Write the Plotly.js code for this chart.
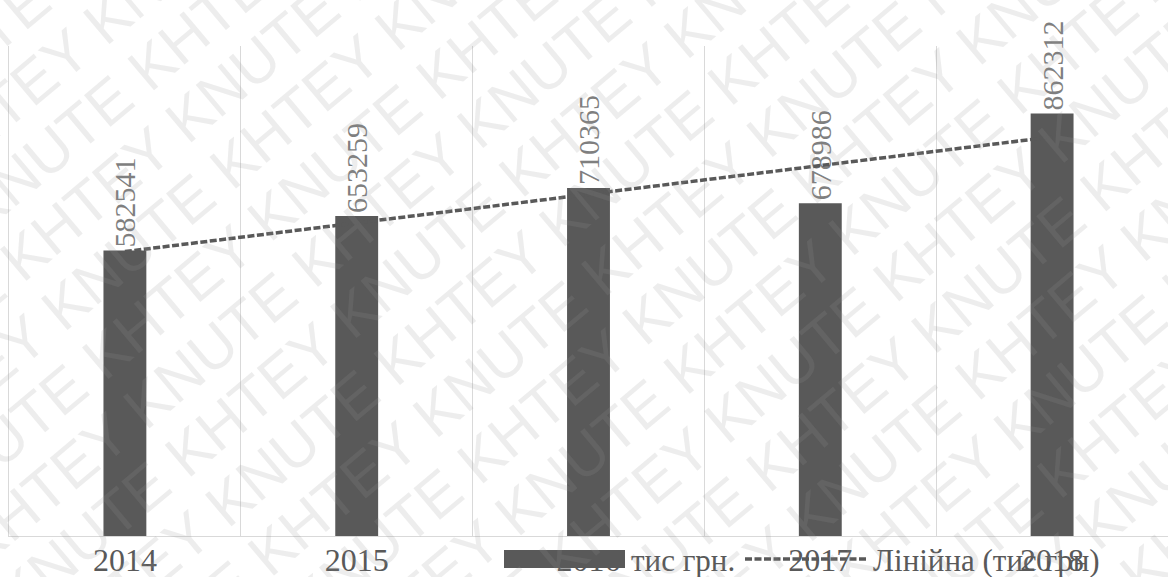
<!DOCTYPE html>
<html>
<head>
<meta charset="utf-8">
<script src="https://cdn.plot.ly/plotly-3.0.1.min.js"></script>
<style>
  html, body { margin: 0; padding: 0; background: #ffffff; }
  #chart { width: 1168px; height: 577px; }
</style>
</head>
<body>
<div id="chart"></div>
<script>
// ---- data ----
const years = ['2014', '2015', '2016', '2017', '2018'];
const values = [582541, 653259, 710365, 678986, 862312];
const trendYears = ['2014', '2018'];
const trendValues = [580400, 814500];
const seriesName = 'тис грн.';
const trendName = 'Лінійна (тис грн)';
const watermarkWords = ['KHTEY', 'KNUTE'];

// ---- layout geometry ----
const W = 1168, H = 577;
const M = { l: 9, r: 0, t: 46, b: 41 };
const PW = W - M.l - M.r, PH = H - M.t - M.b;
const px2x = (px) => (px - M.l) / PW;
const px2y = (py) => (H - M.b - py) / PH;

const SERIF = 'Liberation Serif, Times New Roman, serif';
const DARK = '#595959';

const bars = {
  type: 'bar',
  x: years,
  y: values,
  name: seriesName,
  marker: { color: DARK },
  text: values.map(String),
  textposition: 'outside',
  textangle: -90,
  constraintext: 'none',
  cliponaxis: false,
  textfont: { family: SERIF, size: 30, color: '#7f7f7f' },
  hoverinfo: 'skip'
};

const trend = {
  type: 'scatter',
  mode: 'lines',
  x: trendYears,
  y: trendValues,
  name: trendName,
  line: { color: DARK, width: 3.5, dash: '7px,2.5px' },
  hoverinfo: 'skip'
};

// ---- manual legend (shapes + text) ----
const legY = 559;
const shapes = [
  { type: 'rect', xref: 'paper', yref: 'paper', layer: 'above',
    x0: px2x(504), x1: px2x(625), y0: px2y(568), y1: px2y(550),
    fillcolor: DARK, line: { width: 0 } },
  { type: 'line', xref: 'paper', yref: 'paper', layer: 'above',
    x0: px2x(745), x1: px2x(866), y0: px2y(legY), y1: px2y(legY),
    line: { color: DARK, width: 3.5, dash: '7px,2.5px' } }
];

const annotations = [
  { xref: 'paper', yref: 'paper', x: px2x(629), y: px2y(legY + 1), xanchor: 'left', yanchor: 'middle',
    text: seriesName, showarrow: false, font: { family: SERIF, size: 31, color: DARK } },
  { xref: 'paper', yref: 'paper', x: px2x(871), y: px2y(legY + 1), xanchor: 'left', yanchor: 'middle',
    text: trendName, showarrow: false, font: { family: SERIF, size: 31, color: DARK } }
];

// ---- watermark (diagonal repeated text) ----
const ang = 40 * Math.PI / 180;
const nx = Math.sin(ang), ny = Math.cos(ang);
const cx = 584, cy = 288, spacing = 64;
for (let k = -10; k <= 10; k++) {
  const a = watermarkWords[(k + 100) % 2], b = watermarkWords[(k + 101) % 2];
  let s = '';
  for (let i = 0; i < 4; i++) s += a + ' ' + b + ' ';
  const px = cx + k * spacing * nx, py = cy + k * spacing * ny;
  annotations.push({
    xref: 'paper', yref: 'paper', x: px2x(px), y: px2y(py),
    xanchor: 'center', yanchor: 'middle', textangle: -40,
    text: s.trim(), showarrow: false,
    font: { family: 'Liberation Sans, Arial, sans-serif', size: 60, color: 'rgba(150,150,150,0.17)' }
  });
}

const layout = {
  width: W, height: H,
  margin: M,
  paper_bgcolor: '#ffffff',
  plot_bgcolor: '#ffffff',
  showlegend: false,
  bargap: 0.815,
  xaxis: {
    type: 'category',
    tickson: 'boundaries',
    showgrid: true, gridcolor: '#d9d9d9', gridwidth: 1,
    showline: true, linecolor: '#d9d9d9', linewidth: 1,
    ticks: '',
    ticklabelstandoff: -4,
    tickfont: { family: SERIF, size: 32, color: DARK },
    fixedrange: true
  },
  yaxis: {
    range: [0, 1000000],
    visible: true,
    showticklabels: false,
    ticks: '',
    showline: true, linecolor: '#d9d9d9', linewidth: 1,
    showgrid: false, zeroline: false,
    fixedrange: true
  },
  shapes: shapes,
  annotations: annotations
};

Plotly.newPlot('chart', [bars, trend], layout, { staticPlot: true, displayModeBar: false });
</script>
</body>
</html>
